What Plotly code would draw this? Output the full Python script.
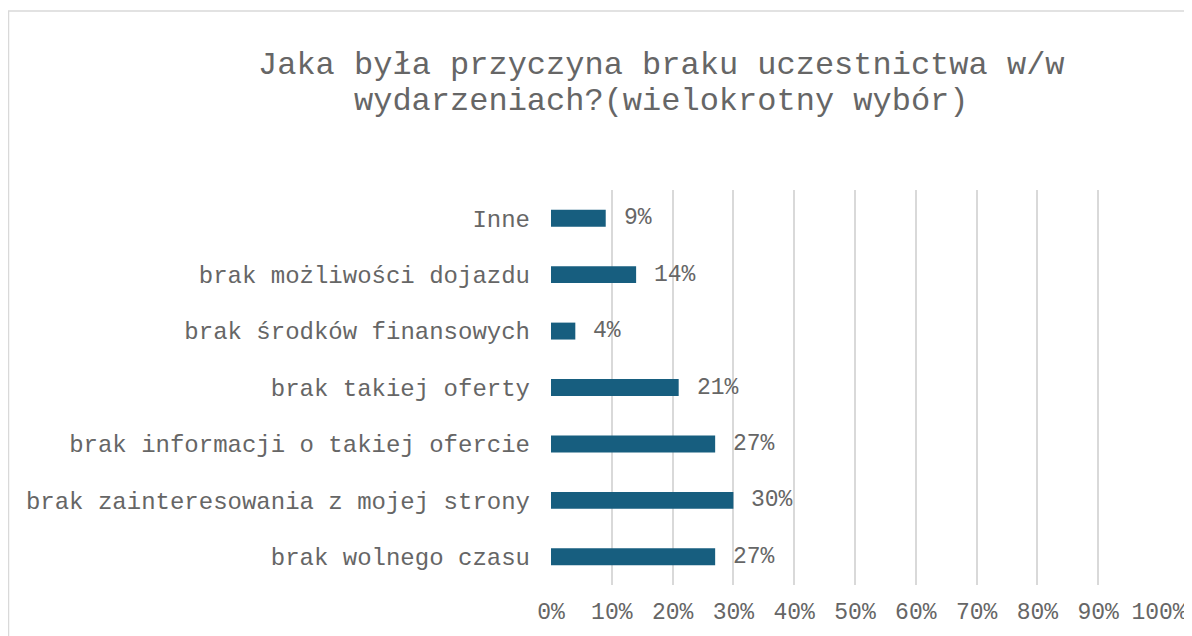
import plotly.graph_objects as go

categories = [
    "brak wolnego czasu",
    "brak zainteresowania z mojej strony",
    "brak informacji o takiej ofercie",
    "brak takiej oferty",
    "brak środków finansowych",
    "brak możliwości dojazdu",
    "Inne",
]
values = [0.27, 0.30, 0.27, 0.21, 0.04, 0.14, 0.09]
tick_vals = [0, 0.1, 0.2, 0.3, 0.4, 0.5, 0.6, 0.7, 0.8, 0.9, 1.0]
tick_text = ["0%", "10%", "20%", "30%", "40%", "50%", "60%", "70%", "80%", "90%", "100%"]
title_lines = ["Jaka była przyczyna braku uczestnictwa w/w",
               "wydarzeniach?(wielokrotny wybór)"]

FONT = "Liberation Mono, Courier New, monospace"
GRAY = "#666666"
BAR = "#175E7F"

# plot area in figure pixels
L, R, T, B = 543, 1151, 182, 577
W, H = R - L, B - T

fig = go.Figure()
fig.add_trace(go.Bar(
    x=values, y=categories, orientation="h",
    marker=dict(color=BAR, line=dict(width=0)),
    width=0.3,
    hoverinfo="skip",
))

for c, v in zip(categories, values):
    fig.add_annotation(
        x=v, y=c, text=f"{round(v*100)}%", showarrow=False,
        xanchor="left", yanchor="middle", xshift=16,
        font=dict(family=FONT, size=23, color=GRAY),
    )

for i, (line, py) in enumerate(zip(title_lines, [57, 94])):
    fig.add_annotation(
        xref="paper", yref="paper",
        x=(653.5 - L) / W, y=(B - py) / H,
        xanchor="center", yanchor="middle",
        text=line, showarrow=False,
        font=dict(family=FONT, size=32, color=GRAY),
    )

fig.update_layout(
    width=1192, height=636,
    margin=dict(l=L, r=1192 - R, t=T, b=636 - B),
    paper_bgcolor="white", plot_bgcolor="white",
    showlegend=False,
    xaxis=dict(
        range=[0, 1.0], tickvals=tick_vals, ticktext=tick_text,
        showgrid=True, gridcolor="#D9D9D9", gridwidth=2,
        zeroline=False, showline=False,
        tickfont=dict(family=FONT, size=23, color=GRAY),
        ticks="", ticklabelstandoff=10,
    ),
    yaxis=dict(
        categoryorder="array", categoryarray=categories,
        range=[-0.5, 6.5],
        showgrid=False, zeroline=False, showline=False,
        tickfont=dict(family=FONT, size=24, color=GRAY),
        ticks="", ticklabelstandoff=20,
    ),
    shapes=[dict(
        type="rect", xref="paper", yref="paper",
        x0=(0.5 - L) / W, x1=(1250 - L) / W,
        y0=(B - 700) / H, y1=(B - 3) / H,
        line=dict(color="#D9D9D9", width=1.5), fillcolor="rgba(0,0,0,0)",
        layer="below",
    )],
)

fig.write_html("out.html")
